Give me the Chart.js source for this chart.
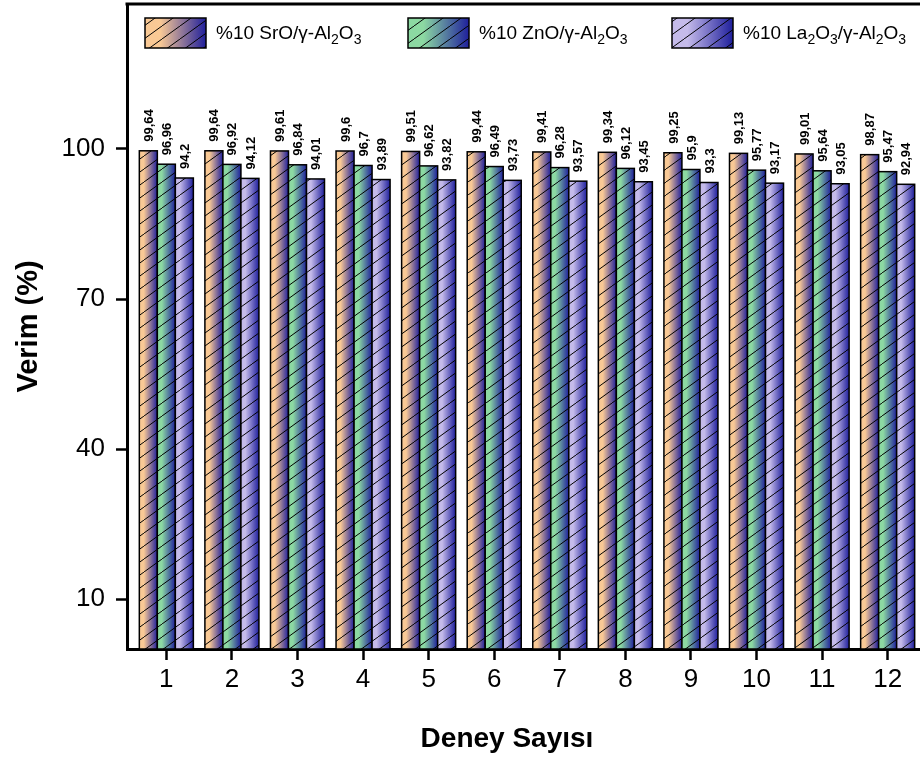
<!DOCTYPE html>
<html lang="tr">
<head>
<meta charset="utf-8">
<title>Verim - Deney Sayısı</title>
<script src="https://cdn.jsdelivr.net/npm/chart.js@4.4.1/dist/chart.umd.min.js"></script>
<style>
  html, body { margin: 0; padding: 0; background: #fff; overflow: hidden; }
  .chart-box { position: absolute; left: 0; top: 0; width: 940px; height: 760px; }
</style>
</head>
<body>
<div class="chart-box">
  <canvas id="verimChart" width="940" height="760"></canvas>
</div>
<script>
// deney numaraları ve katalizörlere göre verim (%)
const deneyler = [1, 2, 3, 4, 5, 6, 7, 8, 9, 10, 11, 12];
const verimSrO = [99.64, 99.64, 99.61, 99.6, 99.51, 99.44, 99.41, 99.34, 99.25, 99.13, 99.01, 98.87];
const verimZnO = [96.96, 96.92, 96.84, 96.7, 96.62, 96.49, 96.28, 96.12, 95.9, 95.77, 95.64, 95.47];
const verimLa2O3 = [94.2, 94.12, 94.01, 93.89, 93.82, 93.73, 93.57, 93.45, 93.3, 93.17, 93.05, 92.94];
const yTicks = [10, 40, 70, 100];

// legend metni: [yazı, alt simge mi]
const seriesLabels = [
  [['%10 SrO/γ-Al', false], ['2', true], ['O', false], ['3', true]],
  [['%10 ZnO/γ-Al', false], ['2', true], ['O', false], ['3', true]],
  [['%10 La', false], ['2', true], ['O', false], ['3', true], ['/γ-Al', false], ['2', true], ['O', false], ['3', true]],
];
const lightColors = ['#f9c995', '#8cd9a2', '#c5bbea'];
const darkColor = '#1f1f9c';
const FONT = 'Arial, "Liberation Sans", sans-serif';

Chart.defaults.font.family = FONT;
Chart.defaults.color = '#000';

// çapraz tarama deseni
const hatch = (() => {
  const c = document.createElement('canvas');
  const w = 18;
  const h = 13;
  c.width = w;
  c.height = h;
  const g = c.getContext('2d');
  g.strokeStyle = '#000';
  g.lineWidth = 1;
  [-1, 0, 1].forEach((k) => {
    g.beginPath();
    g.moveTo(k * w, h);
    g.lineTo(k * w + w, 0);
    g.stroke();
  });
  return c;
})();

const paintBox = (ctx, x, y, w, h, i) => {
  const grad = ctx.createLinearGradient(x, 0, x + w, 0);
  grad.addColorStop(0, lightColors[i]);
  grad.addColorStop(0.25, lightColors[i]);
  grad.addColorStop(1, darkColor);
  ctx.fillStyle = grad;
  ctx.fillRect(x, y, w, h);
  ctx.fillStyle = ctx.createPattern(hatch, 'repeat');
  ctx.fillRect(x, y, w, h);
  ctx.lineWidth = 1.5;
  ctx.strokeStyle = '#000';
  ctx.strokeRect(x, y, w, h);
};

const drawRich = (ctx, parts, x, y, size) => {
  let cx = x;
  parts.forEach(([txt, sub]) => {
    ctx.font = `${sub ? Math.round(size * 0.72) : size}px ${FONT}`;
    ctx.fillText(txt, cx, sub ? y + size * 0.3 : y);
    cx += ctx.measureText(txt).width;
  });
};

const barStyle = {
  id: 'barStyle',
  afterDatasetsDraw(chart) {
    const { ctx, chartArea } = chart;
    ctx.save();
    ctx.beginPath();
    ctx.rect(chartArea.left, chartArea.top, chartArea.right - chartArea.left, chartArea.bottom - chartArea.top);
    ctx.clip();
    chart.data.datasets.forEach((ds, i) => {
      chart.getDatasetMeta(i).data.forEach((el) => {
        paintBox(ctx, el.x - el.width / 2, el.y, el.width, el.base - el.y, i);
      });
    });
    ctx.restore();

    // değer etiketleri
    ctx.save();
    ctx.fillStyle = '#000';
    ctx.font = `bold 13px ${FONT}`;
    ctx.textAlign = 'left';
    ctx.textBaseline = 'middle';
    chart.data.datasets.forEach((ds, i) => {
      chart.getDatasetMeta(i).data.forEach((el, j) => {
        ctx.save();
        ctx.translate(el.x + 1, el.y - 9);
        ctx.rotate(-Math.PI / 2);
        ctx.fillText(String(ds.data[j]).replace('.', ','), 0, 0);
        ctx.restore();
      });
    });
    ctx.restore();
  },
  afterDraw(chart) {
    const { ctx, chartArea } = chart;
    ctx.save();
    // üst çerçeve
    ctx.strokeStyle = '#000';
    ctx.lineWidth = 3;
    ctx.beginPath();
    ctx.moveTo(chartArea.left - 1.5, chartArea.top);
    ctx.lineTo(chart.width, chartArea.top);
    ctx.stroke();

    // legend
    const boxX = [145, 408, 672];
    ctx.textBaseline = 'middle';
    ctx.textAlign = 'left';
    boxX.forEach((bx, i) => {
      paintBox(ctx, bx, 18, 61, 30, i);
      ctx.fillStyle = '#000';
      drawRich(ctx, seriesLabels[i], bx + 71, 34, 19);
    });

    // x ekseni başlığı
    ctx.font = `bold 28px ${FONT}`;
    ctx.textAlign = 'center';
    ctx.fillText('Deney Sayısı', 507, 739);
    ctx.restore();
  },
};

const verimChart = new Chart(document.getElementById('verimChart'), {
  type: 'bar',
  data: {
    labels: deneyler,
    datasets: [
      { label: '%10 SrO/γ-Al₂O₃', data: verimSrO, backgroundColor: lightColors[0] },
      { label: '%10 ZnO/γ-Al₂O₃', data: verimZnO, backgroundColor: lightColors[1] },
      { label: '%10 La₂O₃/γ-Al₂O₃', data: verimLa2O3, backgroundColor: lightColors[2] },
    ],
  },
  options: {
    responsive: false,
    animation: false,
    layout: { padding: { left: 0, top: 4, right: 13, bottom: 0 } },
    datasets: {
      bar: {
        borderColor: '#000',
        borderWidth: 1.5,
        barPercentage: 1,
        categoryPercentage: 0.824,
      },
    },
    plugins: {
      legend: { display: false },
      tooltip: { enabled: false },
    },
    scales: {
      x: {
        type: 'linear',
        min: 0.4,
        max: 12.6,
        offset: false,
        afterBuildTicks: (scale) => {
          scale.ticks = deneyler.map((v) => ({ value: v }));
        },
        afterFit: (scale) => {
          scale.height = 111;
          scale.paddingLeft = 0;
          scale.paddingRight = 0;
        },
        ticks: {
          font: { size: 26 },
          padding: 4,
          maxRotation: 0,
          callback: (v) => v,
        },
        grid: {
          offset: false,
          drawOnChartArea: false,
          drawTicks: true,
          tickLength: 11,
          tickWidth: 2.5,
          tickColor: '#000',
        },
        border: { display: true, color: '#000', width: 3 },
      },
      y: {
        min: 0,
        max: 129,
        afterBuildTicks: (scale) => {
          scale.ticks = yTicks.map((v) => ({ value: v }));
        },
        afterFit: (scale) => {
          scale.width = 127;
          scale.paddingTop = 0;
          scale.paddingBottom = 0;
        },
        ticks: {
          font: { size: 26 },
          padding: 11,
        },
        grid: {
          drawOnChartArea: false,
          drawTicks: true,
          tickLength: 11,
          tickWidth: 2.5,
          tickColor: '#000',
        },
        border: { display: true, color: '#000', width: 3 },
        title: {
          display: true,
          text: 'Verim (%)',
          font: { size: 29, weight: 'bold' },
          padding: { top: 12, bottom: 0 },
        },
      },
    },
  },
  plugins: [barStyle],
});
</script>
</body>
</html>
